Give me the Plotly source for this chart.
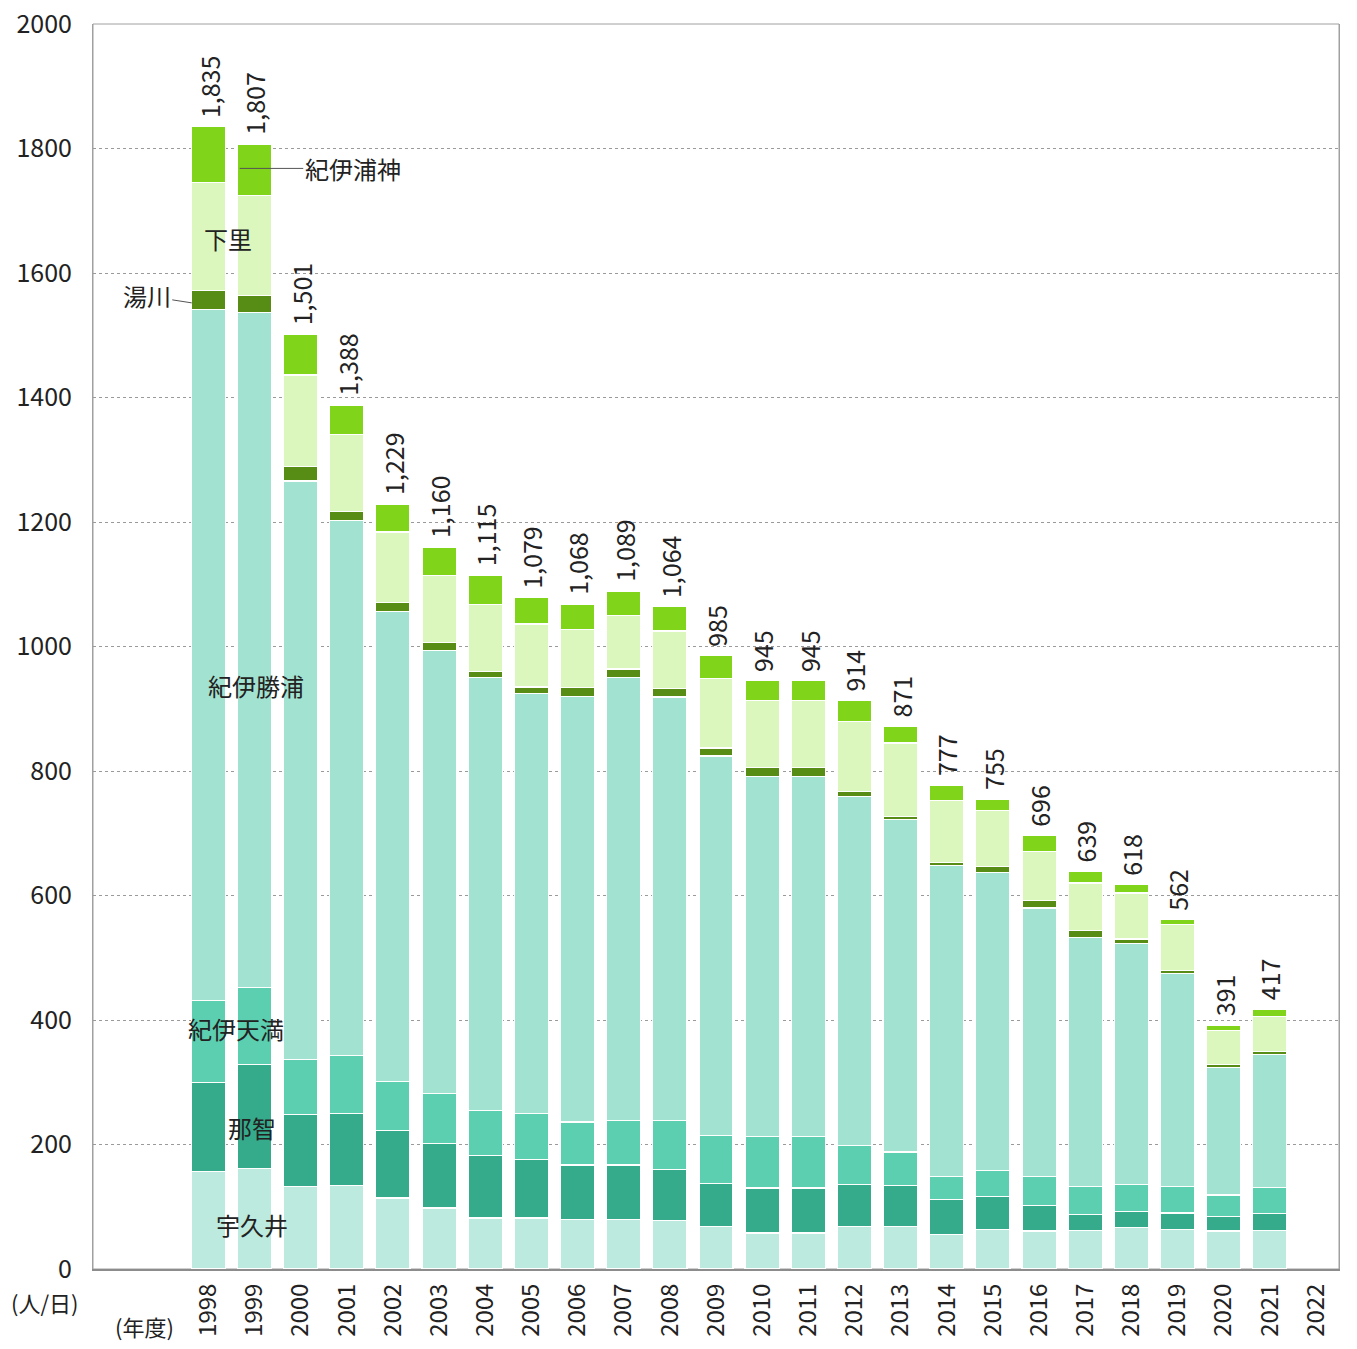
import plotly.graph_objects as go

years = list(range(1998, 2022))
tick_years = list(range(1998, 2023))

ukui = [156, 161, 133, 134, 114, 98, 82, 82, 79, 79, 78, 68, 58, 58, 68, 68, 56, 63, 61, 62, 67, 64, 61, 62]
nachi = [143, 168, 115, 116, 109, 103, 100, 94, 88, 88, 82, 70, 72, 72, 68, 66, 56, 54, 41, 26, 26, 26, 23, 27]
kii_tenma = [132, 123, 88, 93, 78, 81, 72, 74, 69, 72, 78, 77, 83, 83, 62, 54, 37, 41, 47, 45, 43, 43, 35, 42]
kii_katsuura = [1110, 1084, 930, 859, 755, 711, 696, 674, 684, 711, 681, 609, 578, 578, 561, 534, 499, 479, 431, 399, 387, 342, 205, 214]
yukawa = [31, 28, 23, 15, 15, 13, 10, 11, 14, 14, 13, 13, 15, 15, 8, 5, 5, 9, 12, 12, 7, 5, 4, 5]
shimosato = [174, 161, 147, 123, 113, 108, 108, 101, 93, 86, 93, 111, 107, 107, 113, 118, 100, 90, 79, 76, 74, 73, 55, 55]
kii_uragami = [89, 82, 65, 48, 45, 46, 47, 43, 41, 39, 39, 37, 32, 32, 34, 26, 24, 19, 25, 19, 14, 9, 8, 12]
totals = [1835, 1807, 1501, 1388, 1229, 1160, 1115, 1079, 1068, 1089, 1064, 985, 945, 945, 914, 871, 777, 755, 696, 639, 618, 562, 391, 417]

series = [
    ("宇久井", ukui, "#bdeadf"),
    ("那智", nachi, "#35ab8b"),
    ("紀伊天満", kii_tenma, "#5ccfb0"),
    ("紀伊勝浦", kii_katsuura, "#a2e2d1"),
    ("湯川", yukawa, "#578c15"),
    ("下里", shimosato, "#dbf7bd"),
    ("紀伊浦神", kii_uragami, "#80d419"),
]

FONT = "Noto Sans CJK JP"
TXT = "#222222"

fig = go.Figure()
for name, vals, color in series:
    fig.add_trace(go.Bar(
        x=years, y=vals, name=name, width=0.74,
        marker=dict(color=color, line=dict(color="white", width=1.2)),
        hoverinfo="x+y+name",
    ))

annotations = []
for yr, t in zip(years, totals):
    annotations.append(dict(
        x=yr, y=t, xref="x", yref="y", text=f"{t:,}", showarrow=False,
        textangle=-90, xanchor="center", yanchor="bottom", yshift=7,
        font=dict(family=FONT, size=25, color=TXT),
    ))

lab_font = dict(family=FONT, size=24, color=TXT)
annotations += [
    dict(x=1998.42, y=1656, text="下里", showarrow=False, font=lab_font),
    dict(x=1999.03, y=938, text="紀伊勝浦", showarrow=False, font=lab_font),
    dict(x=1998.6, y=387, text="紀伊天満", showarrow=False, font=lab_font),
    dict(x=1998.94, y=228, text="那智", showarrow=False, font=lab_font),
    dict(x=1998.94, y=72, text="宇久井", showarrow=False, font=lab_font),
    dict(x=1998.68, y=1768, text="紀伊浦神", showarrow=True, arrowhead=0,
         arrowwidth=1, arrowcolor="#555555", ax=113, ay=0, font=lab_font),
    dict(x=1997.64, y=1552, text="湯川", showarrow=True, arrowhead=0,
         arrowwidth=1, arrowcolor="#555555", ax=-45, ay=-7, font=lab_font),
    dict(x=-0.0385, y=-0.0265, xref="paper", yref="paper", text="(人/日)",
         showarrow=False, xanchor="center", yanchor="middle",
         font=dict(family=FONT, size=22, color=TXT)),
    dict(x=0.0417, y=-0.046, xref="paper", yref="paper", text="(年度)",
         showarrow=False, xanchor="center", yanchor="middle",
         font=dict(family=FONT, size=22, color=TXT)),
]

fig.update_layout(
    width=1341, height=1333,
    margin=dict(l=85, r=10, t=16, b=72, autoexpand=False),
    barmode="stack",
    showlegend=False,
    plot_bgcolor="white", paper_bgcolor="white",
    font=dict(family=FONT, size=24, color=TXT),
    annotations=annotations,
)
fig.update_xaxes(
    range=[1995.5, 2022.5],
    tickmode="array", tickvals=tick_years, ticktext=[str(y) for y in tick_years],
    tickangle=-90, ticks="", ticklabelstandoff=3,
    tickfont=dict(family=FONT, size=24, color=TXT),
    ticklabeloverflow="allow",
    showgrid=False, showline=True, linecolor="#8c8c8c", linewidth=2, mirror=False,
    zeroline=False,
)
fig.update_yaxes(
    range=[0, 2000], tickmode="array", tickvals=list(range(0, 2001, 200)),
    ticks="", ticklabelstandoff=15,
    tickfont=dict(family=FONT, size=25, color=TXT),
    ticklabeloverflow="allow",
    showgrid=True, gridcolor="#9a9a9a", griddash="dot", gridwidth=1,
    showline=True, linecolor="#a0a0a0", linewidth=1, mirror=True,
    zeroline=False,
)
fig.add_shape(type="rect", xref="paper", yref="paper", x0=0, y0=0, x1=1, y1=1,
              line=dict(color="#a0a0a0", width=1), layer="below")

fig.write_html("out.html")
